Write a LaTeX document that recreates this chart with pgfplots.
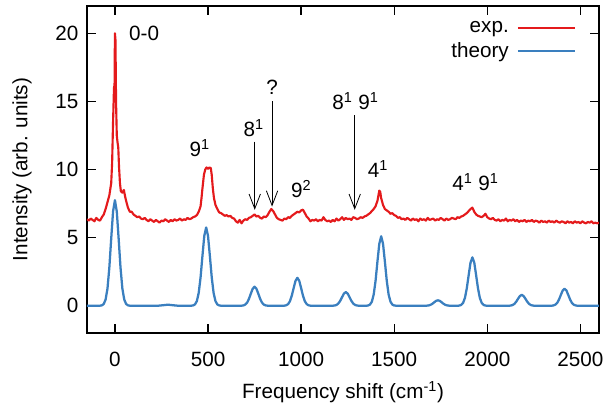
\documentclass[border=0pt]{standalone}
\usepackage{pgfplots}
\pgfplotsset{compat=1.18}
\usepackage{fontspec}
\setmainfont{Liberation Sans}
\usetikzlibrary{arrows.meta, calc}
\definecolor{cExp}{HTML}{E41A1C}
\definecolor{cThe}{HTML}{3A7FBF}

\pgfplotstableread{
x y
-150 6.35
-140 6.25
-130 6.40
-120 6.30
-110 6.20
-100 6.45
-90 6.30
-80 6.25
-70 6.50
-60 6.70
-50 7.10
-40 7.60
-30 8.10
-20 9.00
-15 10.5
-10 13.5
-5 16.0
-2 16.2
0 20.0
3 19.5
6 15.0
10 12.5
14 12.0
18 11.6
22 10.2
27 9.0
32 8.4
40 8.3
48 8.5
55 8.0
62 7.6
70 7.2
80 6.9
90 6.9
100 6.7
110 6.6
120 6.5
130 6.55
140 6.4
150 6.35
160 6.45
170 6.3
180 6.2
190 6.35
200 6.25
210 6.15
220 6.30
230 6.20
240 6.10
250 6.25
260 6.20
270 6.35
280 6.25
290 6.15
300 6.30
310 6.20
320 6.35
330 6.25
340 6.30
350 6.40
360 6.25
370 6.35
380 6.30
390 6.45
400 6.35
410 6.40
420 6.50
430 6.55
440 6.65
450 6.90
460 7.30
465 7.9
470 8.6
478 9.6
485 10.0
492 10.15
500 10.05
508 10.15
515 10.10
520 9.6
526 8.6
532 7.9
540 7.4
550 7.1
560 6.85
570 6.8
580 6.7
590 6.6
600 6.65
610 6.55
620 6.6
630 6.45
640 6.4
650 6.2
660 6.1
670 6.3
680 6.05
690 6.25
700 6.35
710 6.30
720 6.45
730 6.50
740 6.60
750 6.70
760 6.55
770 6.60
780 6.45
790 6.40
800 6.55
810 6.50
820 6.65
830 6.90
840 7.10
850 6.95
860 6.70
870 6.45
880 6.35
890 6.30
900 6.25
910 6.40
920 6.35
930 6.50
940 6.45
950 6.60
960 6.70
970 6.80
980 6.90
990 6.85
1000 7.00
1010 7.05
1020 6.80
1030 6.55
1040 6.40
1050 6.20
1060 6.30
1070 6.25
1080 6.35
1090 6.20
1100 6.30
1110 6.25
1120 6.50
1130 6.30
1140 6.20
1150 6.25
1160 6.15
1170 6.30
1180 6.20
1190 6.40
1200 6.25
1210 6.35
1220 6.50
1230 6.30
1240 6.45
1250 6.35
1260 6.40
1270 6.30
1280 6.50
1290 6.45
1300 6.35
1310 6.40
1320 6.50
1330 6.45
1340 6.55
1350 6.60
1360 6.70
1370 6.80
1380 6.95
1390 7.10
1400 7.30
1410 7.70
1420 8.45
1425 8.35
1430 7.90
1440 7.40
1450 7.10
1460 7.00
1470 6.90
1480 6.75
1490 6.80
1500 6.65
1510 6.60
1520 6.45
1530 6.50
1540 6.35
1550 6.40
1560 6.30
1570 6.45
1580 6.35
1590 6.25
1600 6.40
1610 6.30
1620 6.35
1630 6.20
1640 6.40
1650 6.30
1660 6.35
1670 6.25
1680 6.45
1690 6.30
1700 6.35
1710 6.40
1720 6.25
1730 6.35
1740 6.30
1750 6.45
1760 6.35
1770 6.25
1780 6.40
1790 6.30
1800 6.35
1810 6.45
1820 6.40
1830 6.35
1840 6.50
1850 6.45
1860 6.55
1870 6.60
1880 6.70
1890 6.80
1900 6.95
1910 7.10
1920 7.20
1930 6.90
1940 6.70
1950 6.60
1960 6.55
1970 6.50
1980 6.60
1990 6.75
2000 6.50
2010 6.40
2020 6.35
2030 6.45
2040 6.30
2050 6.25
2060 6.35
2070 6.20
2080 6.30
2090 6.25
2100 6.40
2110 6.20
2120 6.30
2130 6.25
2140 6.35
2150 6.20
2160 6.30
2170 6.15
2180 6.25
2190 6.20
2200 6.30
2210 6.15
2220 6.25
2230 6.20
2240 6.30
2250 6.15
2260 6.25
2270 6.20
2280 6.10
2290 6.25
2300 6.15
2310 6.20
2320 6.10
2330 6.25
2340 6.15
2350 6.20
2360 6.10
2370 6.25
2380 6.15
2390 6.10
2400 6.20
2410 6.15
2420 6.05
2430 6.20
2440 6.10
2450 6.15
2460 6.05
2470 6.20
2480 6.10
2490 6.15
2500 6.05
2510 6.20
2520 6.10
2530 6.05
2540 6.15
2550 6.10
2560 6.20
2570 6.05
2580 6.10
2590 6.05
2600 6.10
}\expdata

\pgfplotstableread{
x y
-150 0
-90 0
-80 0.005
-70 0.03
-60 0.13
-50 0.46
-40 1.26
-30 2.80
-20 4.92
-10 6.92
0 7.75
10 6.92
20 4.92
30 2.80
40 1.26
50 0.46
60 0.13
70 0.03
80 0.005
90 0
230 0
260 0.04
285 0.08
310 0.04
340 0
400 0
410 0.004
420 0.022
430 0.10
440 0.34
450 0.94
460 2.08
470 3.65
480 5.13
490 5.75
500 5.13
510 3.65
520 2.08
530 0.94
540 0.34
550 0.10
560 0.022
570 0.004
580 0
670 0
680 0.005
690 0.024
700 0.083
710 0.23
720 0.51
730 0.89
740 1.25
750 1.40
760 1.25
770 0.89
780 0.51
790 0.23
800 0.083
810 0.024
820 0.005
830 0
900 0
910 0.008
920 0.035
930 0.12
940 0.33
950 0.74
960 1.30
970 1.83
980 2.05
990 1.83
1000 1.30
1010 0.74
1020 0.33
1030 0.12
1040 0.035
1050 0.008
1060 0
1160 0
1170 0.004
1180 0.017
1190 0.059
1200 0.163
1210 0.361
1220 0.635
1230 0.893
1240 1.0
1250 0.893
1260 0.635
1270 0.361
1280 0.163
1290 0.059
1300 0.017
1310 0.004
1320 0
1350 0
1360 0.02
1370 0.087
1380 0.30
1390 0.83
1400 1.84
1410 3.24
1420 4.55
1430 5.1
1440 4.55
1450 3.24
1460 1.84
1470 0.83
1480 0.30
1490 0.087
1500 0.02
1510 0.004
1520 0
1665 0
1675 0.007
1685 0.024
1695 0.065
1705 0.144
1715 0.254
1725 0.357
1735 0.4
1745 0.357
1755 0.254
1765 0.144
1775 0.065
1785 0.024
1795 0.007
1805 0
1840 0
1850 0.014
1860 0.06
1870 0.21
1880 0.58
1890 1.28
1900 2.25
1910 3.17
1920 3.55
1930 3.17
1940 2.25
1950 1.28
1960 0.58
1970 0.21
1980 0.06
1990 0.014
2000 0
2115 0
2125 0.014
2135 0.047
2145 0.13
2155 0.29
2165 0.51
2175 0.71
2185 0.8
2195 0.71
2205 0.51
2215 0.29
2225 0.13
2235 0.047
2245 0.014
2255 0
2345 0
2355 0.021
2365 0.074
2375 0.20
2385 0.45
2395 0.79
2405 1.12
2415 1.25
2425 1.12
2435 0.79
2445 0.45
2455 0.20
2465 0.074
2475 0.021
2485 0
2600 0
}\theorydata

\begin{document}
\begin{tikzpicture}[font=\fontsize{15.5}{18}\selectfont]
\begin{axis}[
    name=ax,
    scale only axis,
    width=384pt,
    height=245.25pt,
    xmin=-150, xmax=2600,
    ymin=-2, ymax=22,
    xtick={0,500,...,2500},
    ytick={0,5,...,20},
    scaled x ticks=false,
    tick align=inside,
    major tick length=6.75pt,
    axis line style={line width=1pt},
    tick style={line width=1pt, black},
    /pgf/number format/assume math mode=true,
    /pgf/number format/1000 sep={},
    yticklabel style={xshift=-3pt},
    xticklabel style={yshift=-11pt},
    xlabel={Frequency shift (cm\textsuperscript{-1})},
    ylabel={Intensity (arb. units)},
    xlabel style={at={(axis description cs:0.5,-0.182)}, anchor=center},
    ylabel style={at={(axis description cs:-0.127,0.5)}, anchor=center},
    legend style={draw=none, fill=none, at={(axis description cs:1,1)},
        anchor=north east, xshift=-14pt, yshift=-7.5pt, row sep=2pt,
        /tikz/every odd column/.append style={column sep=4pt}},
    legend cell align=right,
    legend plot pos=right,
    legend image code/.code={\draw[#1] (0pt,0pt) -- (42.75pt,0pt);},
]
\addplot[cExp, line width=1.6pt, line join=round] table[x=x, y=y] {\expdata};
\addlegendentry{exp.}
\addplot[cThe, line width=1.7pt, line join=round] table[x=x, y=y] {\theorydata};
\addlegendentry{theory}

% annotations
\node[anchor=base west, inner sep=0] at (axis cs:75,19.45) {0-0};
\node[anchor=base, inner sep=0] at (axis cs:456,10.95) {9\textsuperscript{1}};
\node[anchor=base, inner sep=0] at (axis cs:746,12.41) {8\textsuperscript{1}};
\node[anchor=base, inner sep=0] at (axis cs:844,15.47) {?};
\node[anchor=base, inner sep=0] at (axis cs:1001,7.97) {9\textsuperscript{2}};
\node[anchor=base, inner sep=0] at (axis cs:1292,14.42) {8\textsuperscript{1} 9\textsuperscript{1}};
\node[anchor=base, inner sep=0] at (axis cs:1413,9.41) {4\textsuperscript{1}};
\node[anchor=base, inner sep=0] at (axis cs:1937,8.43) {4\textsuperscript{1} 9\textsuperscript{1}};

\draw[line width=0.6pt, -{Straight Barb[length=11pt,width=8.5pt,line width=0.6pt]}]
    (axis cs:751,12.05) -- (axis cs:751,7.04);
\draw[line width=0.6pt, -{Straight Barb[length=11pt,width=8.5pt,line width=0.6pt]}]
    (axis cs:844,15.0) -- (axis cs:844,7.28);
\draw[line width=0.6pt, -{Straight Barb[length=11pt,width=8.5pt,line width=0.6pt]}]
    (axis cs:1288,14.0) -- (axis cs:1288,7.04);
\end{axis}
\pgfresetboundingbox
\path[use as bounding box] ($(ax.south west)+(-65.25pt,-53.25pt)$) rectangle ($(ax.north east)+(6.75pt,4.5pt)$);
\end{tikzpicture}
\end{document}
